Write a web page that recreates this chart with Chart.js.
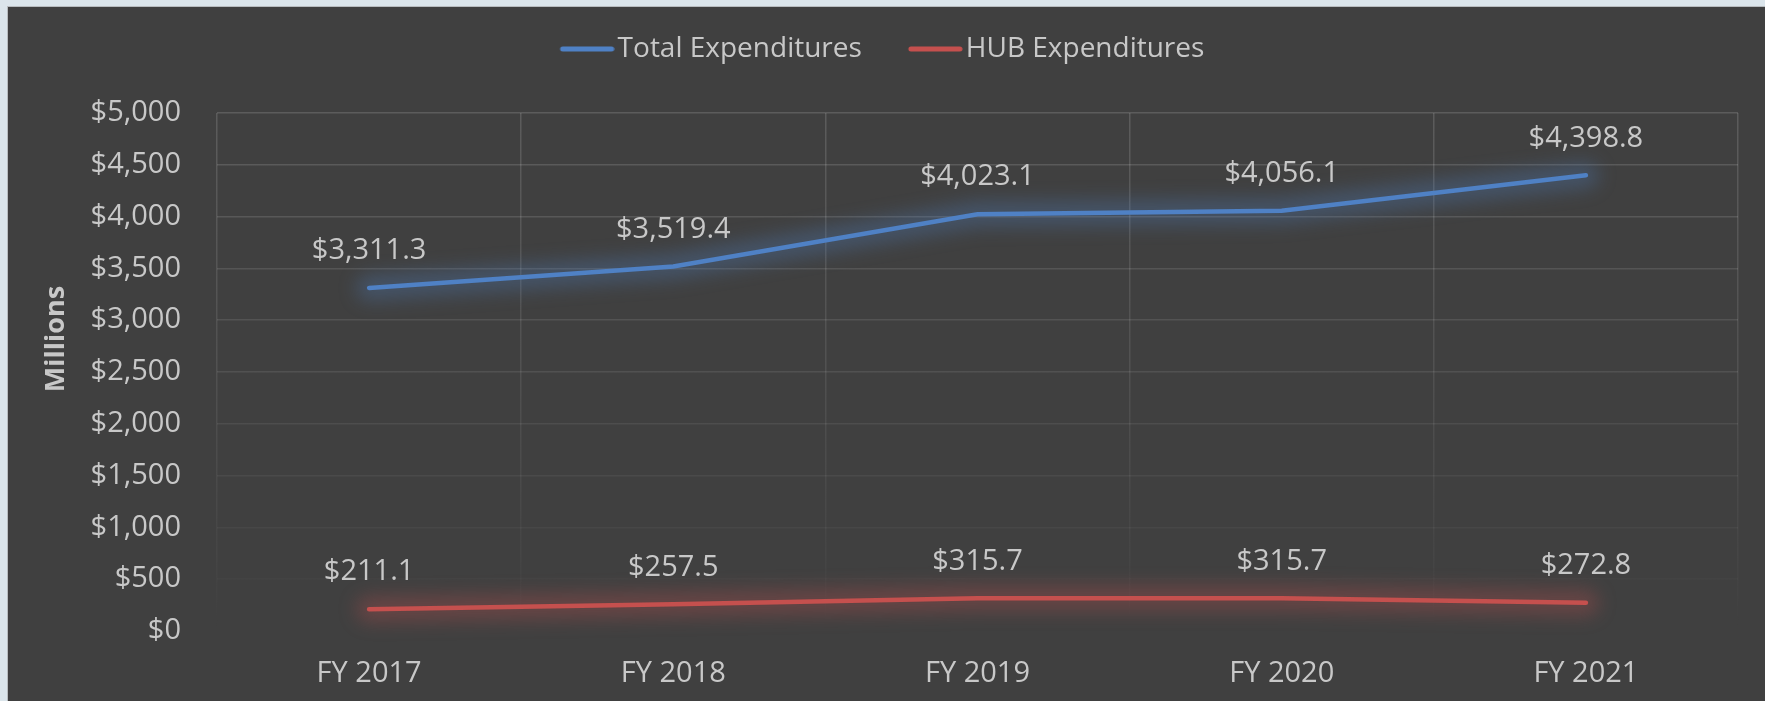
<!DOCTYPE html>
<html>
<head>
<meta charset="utf-8">
<script src="https://cdn.jsdelivr.net/npm/chart.js@4.4.1/dist/chart.umd.min.js"></script>
<style>
  html, body { margin: 0; padding: 0; background: #dbe5eb; }
  body { width: 1765px; height: 701px; position: relative; overflow: hidden; }
  #wrap {
    position: absolute; left: 7px; top: 6px; width: 1757px; height: 694px;
    background: #404040; border-left: 1px solid #b8bcbf; border-top: 1px solid #b8bcbf;
  }
</style>
</head>
<body>
<div id="wrap"><canvas id="chart"></canvas></div>
<script>
// chart data
const years = ['FY 2017', 'FY 2018', 'FY 2019', 'FY 2020', 'FY 2021'];
const totalExp = [3311.3, 3519.4, 4023.1, 4056.1, 4398.8];
const hubExp = [211.1, 257.5, 315.7, 315.7, 272.8];
const yTicks = [0, 500, 1000, 1500, 2000, 2500, 3000, 3500, 4000, 4500, 5000];

const textColor = '#c8c8c8';
const fontFamily = '"Open Sans", "Noto Sans", sans-serif';
const blue = '#4f81c5';
const red = '#c5504e';

function money(v, digits) {
    return '$' + v.toLocaleString('en-US', { minimumFractionDigits: digits, maximumFractionDigits: digits });
}

// legend swatch: a short thick line sitting close to the text
function swatch(color) {
    const c = document.createElement('canvas');
    c.width = 84;
    c.height = 8;
    const x = c.getContext('2d');
    x.strokeStyle = color;
    x.lineWidth = 5;
    x.lineCap = 'round';
    x.beginPath();
    x.moveTo(32, 4);
    x.lineTo(81, 4);
    x.stroke();
    return c;
}

// soft glow under each line (wide blurred stroke along the same points)
const glowPlugin = {
    id: 'glow',
    beforeDatasetDraw(chart, args) {
        const ctx = chart.ctx;
        const pts = args.meta.data;
        ctx.save();
        ctx.filter = 'blur(9px)';
        ctx.strokeStyle = args.meta._dataset.glowColor;
        ctx.lineWidth = 26;
        ctx.lineCap = 'round';
        ctx.lineJoin = 'round';
        ctx.beginPath();
        pts.forEach((p, i) => i ? ctx.lineTo(p.x, p.y) : ctx.moveTo(p.x, p.y));
        ctx.stroke();
        ctx.restore();
    }
};

// value labels above the points
const valueLabels = {
    id: 'valueLabels',
    afterDatasetsDraw(chart) {
        const ctx = chart.ctx;
        ctx.save();
        ctx.fillStyle = textColor;
        ctx.font = '29px ' + fontFamily;
        ctx.textAlign = 'center';
        ctx.textBaseline = 'middle';
        chart.data.datasets.forEach((ds, i) => {
            chart.getDatasetMeta(i).data.forEach((pt, j) => {
                ctx.fillText(money(ds.data[j], 1), pt.x, pt.y - 37);
            });
        });
        ctx.restore();
    }
};

// axis title, sitting a bit above the middle like the original
const axisTitle = {
    id: 'axisTitle',
    afterDraw(chart) {
        const ctx = chart.ctx;
        ctx.save();
        ctx.translate(48, 332);
        ctx.rotate(-Math.PI / 2);
        ctx.fillStyle = textColor;
        ctx.font = 'bold 27px ' + fontFamily;
        ctx.textAlign = 'center';
        ctx.textBaseline = 'middle';
        ctx.fillText('Millions', 0, 0);
        ctx.restore();
    }
};

// extra space between legend and plot
const legendGap = {
    id: 'legendGap',
    beforeInit(chart) {
        const lg = chart.legend;
        if (!lg) return;
        const fit = lg.fit;
        lg.fit = function () {
            fit.call(this);
            this.height += 40;
        };
    }
};

function gridFade(c) {
    const chart = c.chart;
    const a = chart.chartArea;
    if (!a) return 'rgba(255,255,255,0.12)';
    const g = chart.ctx.createLinearGradient(0, a.top, 0, a.bottom);
    g.addColorStop(0, 'rgba(255,255,255,0.15)');
    g.addColorStop(0.5, 'rgba(255,255,255,0.09)');
    g.addColorStop(0.85, 'rgba(255,255,255,0.03)');
    g.addColorStop(1, 'rgba(255,255,255,0.0)');
    return g;
}

new Chart(document.getElementById('chart'), {
    type: 'line',
    data: {
        labels: years,
        datasets: [{
            label: 'Total Expenditures',
            data: totalExp,
            borderColor: blue,
            backgroundColor: blue,
            glowColor: 'rgba(79,129,197,0.3)',
            pointStyle: swatch(blue),
            borderWidth: 4.5,
            borderCapStyle: 'round',
            pointRadius: 0,
            tension: 0
        }, {
            label: 'HUB Expenditures',
            data: hubExp,
            borderColor: red,
            backgroundColor: red,
            glowColor: 'rgba(197,80,78,0.3)',
            pointStyle: swatch(red),
            borderWidth: 4.5,
            borderCapStyle: 'round',
            pointRadius: 0,
            tension: 0
        }]
    },
    options: {
        responsive: true,
        maintainAspectRatio: false,
        animation: false,
        layout: { padding: { top: 0, right: 27, bottom: 0, left: 0 } },
        plugins: {
            tooltip: { enabled: false },
            legend: {
                position: 'top',
                labels: {
                    color: textColor,
                    font: { family: fontFamily, size: 28 },
                    usePointStyle: true,
                    pointStyleWidth: 62,
                    padding: 28
                }
            }
        },
        scales: {
            x: {
                offset: true,
                grid: { offset: true, color: gridFade, drawTicks: false, lineWidth: 1.5 },
                border: { display: false },
                ticks: { color: textColor, font: { family: fontFamily, size: 29 }, padding: 25 },
                afterFit(s) { s.height = 70; }
            },
            y: {
                min: 0,
                max: 5000,
                afterBuildTicks(s) { s.ticks = yTicks.map(v => ({ value: v })); },
                grid: { color: gridFade, drawTicks: false, lineWidth: 1.5 },
                border: { display: false },
                ticks: {
                    color: textColor,
                    font: { family: fontFamily, size: 29 },
                    padding: 36,
                    callback: v => money(v, 0)
                },
                afterFit(s) { s.width = 209; }
            }
        }
    },
    plugins: [legendGap, glowPlugin, valueLabels, axisTitle]
});
</script>
</body>
</html>
